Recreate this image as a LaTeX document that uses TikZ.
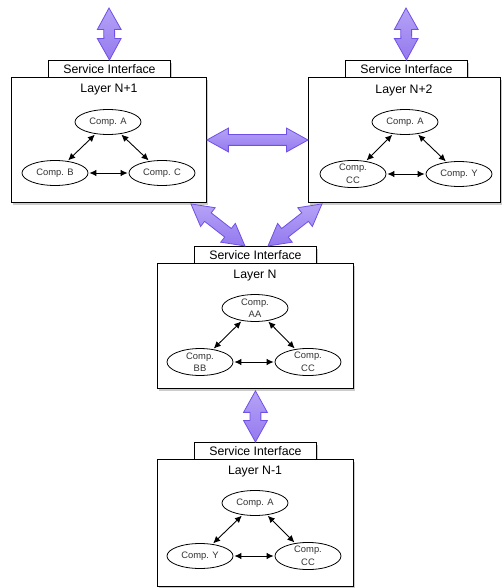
\documentclass[tikz,border=0pt]{standalone}
\usepackage{fontspec}
\setmainfont{Liberation Sans}
\usetikzlibrary{shapes.geometric,shapes.arrows,shadows,calc,arrows.meta}

\definecolor{arrowfill}{HTML}{9479EF}
\definecolor{arrowlight}{HTML}{B6A3F6}
\definecolor{arrowedge}{HTML}{7050E6}

\tikzset{
  layerbox/.style={draw=black, line width=0.9pt, fill=white,
    drop shadow={shadow xshift=1.6pt, shadow yshift=-2.4pt, opacity=0.4},
    inner sep=0pt, anchor=north west},
  ifacebox/.style={layerbox, font=\fontsize{12.3}{14}\selectfont},
  layertitle/.style={font=\fontsize{12.3}{14}\selectfont, inner sep=0pt},
  comp/.style={ellipse, draw=black, line width=0.8pt, fill=white,
    minimum width=66pt, minimum height=25pt, inner sep=0pt,
    font=\fontsize{9.4}{12.5}\selectfont, text=black!80, align=center},
  link/.style={{Latex[length=7pt,width=6.5pt]}-{Latex[length=7pt,width=6.5pt]},
    line width=0.9pt, shorten <=1pt, shorten >=1pt},
  fatarrow/.style={double arrow, draw=arrowedge, line width=0.8pt,
    top color=arrowlight, bottom color=arrowfill,
    inner xsep=0pt, inner ysep=5pt, text height=0pt, text depth=0pt,
    double arrow head extend=6.5pt, double arrow tip angle=58}
}

% thick two-headed arrow between two points
\newcommand\fatlink[3]{%
  \path let \p1=#2, \p2=#3,
    \n1={atan2(\y2-\y1,\x2-\x1)}, \n2={veclen(\x2-\x1,\y2-\y1)} in
    node[fatarrow, rotate=\n1, minimum height=\n2] (#1) at ($(\p1)!0.5!(\p2)$) {};%
}

\begin{document}
\begin{tikzpicture}[x=1pt, y=-1pt]
\useasboundingbox (0,0) rectangle (502,588);

% ---- layer boxes and their service interfaces ----
\node[ifacebox, minimum width=122, minimum height=17] (SI1) at (48,60) {Service Interface};
\node[layerbox, minimum width=195, minimum height=125] (L1) at (11,77) {};
\node[ifacebox, minimum width=122, minimum height=17] (SI2) at (345,60) {Service Interface};
\node[layerbox, minimum width=192, minimum height=125] (L2) at (308,77) {};
\node[ifacebox, minimum width=122, minimum height=17] (SIN) at (194,246) {Service Interface};
\node[layerbox, minimum width=196, minimum height=125] (LN) at (157,263) {};
\node[ifacebox, minimum width=122, minimum height=17] (SIM) at (194,442) {Service Interface};
\node[layerbox, minimum width=196, minimum height=127] (LM) at (157,459) {};

% ---- titles ----
\node[layertitle] (T1) at (109,90) {Layer N+1};
\node[layertitle] (T2) at (404,90) {Layer N+2};
\node[layertitle] (TN) at (255,276) {Layer N};
\node[layertitle] (TM) at (255,472) {Layer N-1};

% ---- components, layer N+1 ----
\node[comp] (a1) at (108,122) {Comp. A};
\node[comp] (b1) at (55,173) {Comp. B};
\node[comp] (c1) at (162,173) {Comp. C};
\draw[link] (a1) -- (b1);
\draw[link] (a1) -- (c1);
\draw[link] (b1) -- (c1);

% ---- components, layer N+2 ----
\node[comp] (a2) at (405,122) {Comp. A};
\node[comp] (c2) at (353,174) {Comp.\\CC};
\node[comp] (y2) at (459,174) {Comp. Y};
\draw[link] (a2) -- (c2);
\draw[link] (a2) -- (y2);
\draw[link] (c2) -- (y2);

% ---- components, layer N ----
\node[comp] (aN) at (255,308) {Comp.\\AA};
\node[comp] (bN) at (200,362) {Comp.\\BB};
\node[comp] (cN) at (308,362) {Comp.\\CC};
\draw[link] (aN) -- (bN);
\draw[link] (aN) -- (cN);
\draw[link] (bN) -- (cN);

% ---- components, layer N-1 ----
\node[comp] (aM) at (255,503) {Comp. A};
\node[comp] (yM) at (200,556) {Comp. Y};
\node[comp] (cM) at (308,556) {Comp.\\CC};
\draw[link] (aM) -- (yM);
\draw[link] (aM) -- (cM);
\draw[link] (yM) -- (cM);

% ---- interface arrows ----
\coordinate (up1) at (109,8);
\coordinate (up2) at (406,8);
\fatlink{fa1}{(up1)}{(SI1.north)}
\fatlink{fa2}{(up2)}{(SI2.north)}
\fatlink{fa3}{($(L1.north east)+(0,63)$)}{($(L2.north west)+(0,63)$)}
\fatlink{fa4}{($(L1.south east)+(-16,1)$)}{($(SIN.north west)+(51,0)$)}
\fatlink{fa5}{($(L2.south west)+(14,1)$)}{($(SIN.north west)+(74,0)$)}
\fatlink{fa6}{($(LN.south)+(0,2)$)}{(SIM.north)}
\end{tikzpicture}
\end{document}
